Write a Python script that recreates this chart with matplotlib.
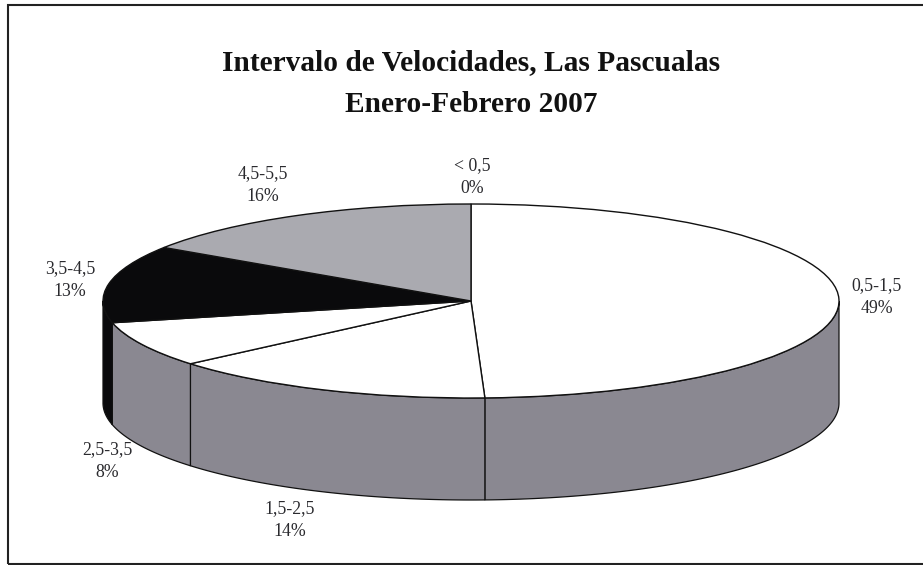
import numpy as np
import matplotlib
matplotlib.use('Agg')
import matplotlib.pyplot as plt

# intervalos de velocidad, porcentajes estimados y los rotulos impresos
intervalos = ['< 0,5', '0,5-1,5', '1,5-2,5', '2,5-3,5', '3,5-4,5', '4,5-5,5']
porcentajes = [0, 49.4, 14.4, 7.6, 12.9, 15.7]
rotulos = ['0%', '49%', '14%', '8%', '13%', '16%']
color_tapa = ['white', 'white', 'white', 'white', '#0a0a0c', '#aaaab0']
color_lado = ['#8a8891', '#8a8891', '#8a8891', '#8a8891', '#0a0a0c', '#aaaab0']
etiqueta_px = [(472, 177), (877, 297), (290, 520), (107, 461), (70, 280), (263, 185)]

W, H = 923, 565
CX, CY, RX, RY = 471, 301, 368, 97
PROF = 102

plt.rcParams['font.family'] = ['Liberation Serif', 'DejaVu Serif']

fig = plt.figure(figsize=(W / 100, H / 100), dpi=100)
ax = fig.add_axes([0, 0, 1, 1])
ax.pie(porcentajes, colors=color_tapa, startangle=90, counterclock=False,
       wedgeprops={'edgecolor': '#111111', 'linewidth': 1.0, 'zorder': 5})
ax.set_aspect('auto')
ax.set_xlim(-CX / RX, (W - CX) / RX)
ax.set_ylim((CY - H) / RY, CY / RY)

# pared lateral de cada sector, solo la parte visible
prof = PROF / RY
acum = np.cumsum([0] + porcentajes) / 100 * 2 * np.pi
for i in range(len(porcentajes)):
    a0, a1 = acum[i], acum[i + 1]
    a0 = max(a0, np.pi / 2)
    a1 = min(a1, 3 * np.pi / 2)
    if a1 <= a0:
        continue
    t = np.linspace(a0, a1, 80)
    x = np.sin(t)
    y = np.cos(t)
    ax.fill(np.r_[x, x[::-1]], np.r_[y, y[::-1] - prof],
            facecolor=color_lado[i], edgecolor='#111111', linewidth=0.9, zorder=3)

for nombre, rot, (px, py) in zip(intervalos, rotulos, etiqueta_px):
    fig.text(px / W, 1 - py / H, f'{nombre}\n{rot}', ha='center', va='center',
             fontsize=12.8, color='#2a2a2e', linespacing=1.45)

fig.text(471 / W, 1 - 63 / H, 'Intervalo de Velocidades, Las Pascualas', ha='center', va='center',
         fontsize=21.2, fontweight='bold', color='#111111')
fig.text(471 / W, 1 - 104 / H, 'Enero-Febrero 2007', ha='center', va='center',
         fontsize=21.2, fontweight='bold', color='#111111')

# marco exterior
marco = plt.Rectangle((8 / W, 1 - 564 / H), 1, 559 / H, transform=fig.transFigure,
                      fill=False, edgecolor='#222222', linewidth=1.5)
fig.add_artist(marco)

fig.savefig('out.png', dpi=100)
